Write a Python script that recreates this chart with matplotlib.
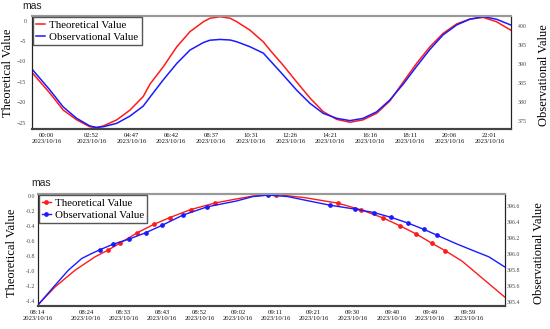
import matplotlib
matplotlib.use("Agg")
import matplotlib.pyplot as plt

# ---- top panel: full day ----
top_t = [2, 52, 90, 129, 167, 186, 206, 245, 283, 321, 341, 379, 418, 456, 495, 514, 543,
         572, 591, 629, 668, 687, 725, 764, 803, 841, 880, 918, 956, 995, 1033, 1072,
         1111, 1149, 1187, 1226, 1264, 1303, 1341, 1382]
top_theory = [-12.9, -17.8, -21.9, -24.3, -26.0, -26.2, -25.8, -24.3, -21.9, -18.6, -15.5,
              -11.3, -6.4, -2.7, -0.25, 0.6, 0.97, 0.6, -0.25, -2.3, -5.2, -7.2, -10.9,
              -15.0, -19.0, -22.3, -24.2, -24.9, -24.3, -22.7, -19.7, -15.0, -10.4, -6.4,
              -3.1, -0.8, 0.4, 0.8, -0.25, -2.3]
top_obs = [388.4, 383.1, 378.7, 375.7, 373.7, 373.3, 373.5, 374.4, 376.3, 378.9, 381.3,
           385.8, 390.1, 393.6, 395.6, 396.2, 396.4, 396.25, 395.8, 394.5, 392.8, 390.9,
           387.1, 383.1, 379.6, 377.0, 375.7, 375.1, 375.7, 377.4, 380.5, 384.7, 389.4,
           393.8, 397.6, 400.2, 401.7, 402.4, 401.7, 400.2]
top_tick_pos = [42, 172, 287, 402, 517, 631, 746, 861, 976, 1091, 1206, 1321]
top_tick_lab = ["00:00", "02:52", "04:47", "06:42", "08:37", "10:31",
                "12:26", "14:21", "16:16", "18:11", "20:06", "22:01"]

# ---- bottom panel: zoom around the peak ----
bot_t_theory = [0, 4.35, 9.32, 14.29, 17.59, 20.63, 24.73, 28.88, 32.88, 38.07, 44.06,
                49.40, 53.55, 59.27, 66.30, 74.68, 80.34, 85.86, 90.16, 94.19, 98.04,
                101.27, 105.57, 110.54, 116.1]
bot_theory = [-1.463, -1.216, -0.992, -0.812, -0.720, -0.623, -0.491, -0.377, -0.285,
              -0.178, -0.090, -0.036, 0.004, 0.024, -0.017, -0.092, -0.179, -0.289,
              -0.397, -0.507, -0.630, -0.727, -0.871, -1.097, -1.350]
bot_theory_marks = [4, 5, 6, 7, 8, 9, 10, 13, 15, 16, 17, 18, 19, 20, 21]
bot_t_obs = [0, 4.35, 7.65, 10.98, 13.47, 15.53, 18.76, 22.81, 26.89, 31.01, 36.11,
             42.20, 49.40, 53.55, 57.33, 62.18, 66.30, 72.61, 78.83, 83.70, 87.92,
             92.03, 96.05, 99.28, 103.93, 108.05, 112.20, 116.1]
bot_obs = [395.362, 395.613, 395.801, 395.948, 396.011, 396.058, 396.126, 396.192,
           396.270, 396.364, 396.490, 396.594, 396.666, 396.722, 396.740, 396.722,
           396.679, 396.615, 396.566, 396.521, 396.462, 396.392, 396.312, 396.240,
           396.136, 396.052, 395.969, 395.844]
bot_obs_marks = [5, 6, 7, 8, 9, 10, 11, 14, 17, 18, 19, 20, 21, 22, 23]
bot_tick_pos = [0, 12.1, 21.4, 31.0, 40.3, 49.9, 59.2, 68.6, 78.3, 88.1, 97.6, 107.1]
bot_tick_lab = ["08:14", "08:24", "08:33", "08:43", "08:52", "09:02",
                "09:11", "09:21", "09:30", "09:40", "09:49", "09:59"]
date_lab = "2023/10/16"

serif = "Liberation Serif"
red = "#ff1a1a"
blue = "#1a1aff"

fig = plt.figure(figsize=(5.5, 3.29), dpi=100)


def style_axes(ax, ax2):
    for a in (ax, ax2):
        a.spines["top"].set_color("#999999")
        a.spines["top"].set_linewidth(1.5)
        a.spines["bottom"].set_color("#444444")
        a.spines["bottom"].set_linewidth(1.5)
        a.spines["left"].set_color("#222222")
        a.spines["right"].set_color("#222222")
        a.spines["left"].set_linewidth(0.8)
        a.spines["right"].set_linewidth(0.8)
    ax.tick_params(axis="x", length=0, pad=3, labelsize=4.8, labelcolor="#111111")
    ax.tick_params(axis="y", length=0, labelsize=4.2, labelcolor="#444444")
    ax2.tick_params(axis="y", length=0, labelsize=4.2, labelcolor="#444444")
    for lab in ax.get_xticklabels() + ax.get_yticklabels() + ax2.get_yticklabels():
        lab.set_family(serif)


def add_legend(ax, ax2, l1, l2):
    leg = ax2.legend([l1, l2], ["Theoretical Value", "Observational Value"],
                     loc="upper left", prop={"family": serif, "size": 7.8},
                     frameon=True, fancybox=False, handlelength=0.8,
                     handletextpad=0.4, borderaxespad=0.1, borderpad=0.3,
                     labelspacing=0.2)
    leg.get_frame().set_edgecolor("#555555")
    leg.get_frame().set_linewidth(1.0)
    leg.get_frame().set_alpha(1)


# top panel
ax = fig.add_axes([32 / 550, 1 - 129 / 329, 479 / 550, 113 / 329])
ax2 = ax.twinx()
l1, = ax.plot(top_t, top_theory, color=red, lw=1.1)
l2, = ax2.plot(top_t, top_obs, color=blue, lw=1.1)
ax.set_xlim(0, 1383)
ax.set_ylim(-26.55, 1.15)
ax2.set_ylim(372.9, 402.55)
ax.set_yticks([0, -5, -10, -15, -20, -25])
ax2.set_yticks([375, 380, 385, 390, 395, 400])
ax.set_xticks(top_tick_pos)
ax.set_xticklabels([t + "\n" + date_lab for t in top_tick_lab])
style_axes(ax, ax2)
ax2.tick_params(axis="y", pad=5)
ax.tick_params(axis="y", pad=4)
ax.set_ylabel("Theoretical Value", family=serif, fontsize=9)
ax.yaxis.set_label_coords(-0.038, 0.5)
ax2.set_ylabel("Observational Value", family=serif, fontsize=9)
ax2.yaxis.set_label_coords(1.056, 0.48)
add_legend(ax, ax2, l1, l2)
fig.text(22.5 / 550, 1 - 6 / 329, "mas", family="Liberation Sans", fontsize=7.5,
         va="center", ha="left", color="#222222")

# bottom panel
bx = fig.add_axes([37.5 / 550, 1 - 306 / 329, 467.5 / 550, 112 / 329])
bx2 = bx.twinx()
m1, = bx.plot(bot_t_theory, bot_theory, color=red, lw=1.0, marker="o", markersize=2.4,
              markevery=bot_theory_marks)
m2, = bx2.plot(bot_t_obs, bot_obs, color=blue, lw=1.0, marker="o", markersize=2.4,
               markevery=bot_obs_marks)
bx.set_xlim(0, 116.2)
bx.set_ylim(-1.471, 0.031)
bx2.set_ylim(395.355, 396.754)
bx.set_yticks([0.0, -0.2, -0.4, -0.6, -0.8, -1.0, -1.2, -1.4])
bx.set_yticklabels(["%.1f" % v for v in [0.0, -0.2, -0.4, -0.6, -0.8, -1.0, -1.2, -1.4]])
bx2.set_yticks([395.4, 395.6, 395.8, 396.0, 396.2, 396.4, 396.6])
bx2.set_yticklabels(["%.1f" % v for v in [395.4, 395.6, 395.8, 396.0, 396.2, 396.4, 396.6]])
bx.set_xticks(bot_tick_pos)
bx.set_xticklabels([t + "\n" + date_lab for t in bot_tick_lab])
style_axes(bx, bx2)
bx.tick_params(axis="y", pad=1.5)
bx2.tick_params(axis="y", pad=1.5)
bx.set_ylabel("Theoretical Value", family=serif, fontsize=9)
bx.yaxis.set_label_coords(-0.041, 0.478)
bx2.set_ylabel("Observational Value", family=serif, fontsize=9)
bx2.yaxis.set_label_coords(1.06, 0.473)
add_legend(bx, bx2, m1, m2)
fig.text(31 / 550, 1 - 183.5 / 329, "mas", family="Liberation Sans", fontsize=7.5,
         va="center", ha="left", color="#222222")

fig.savefig("out.png", dpi=100)
